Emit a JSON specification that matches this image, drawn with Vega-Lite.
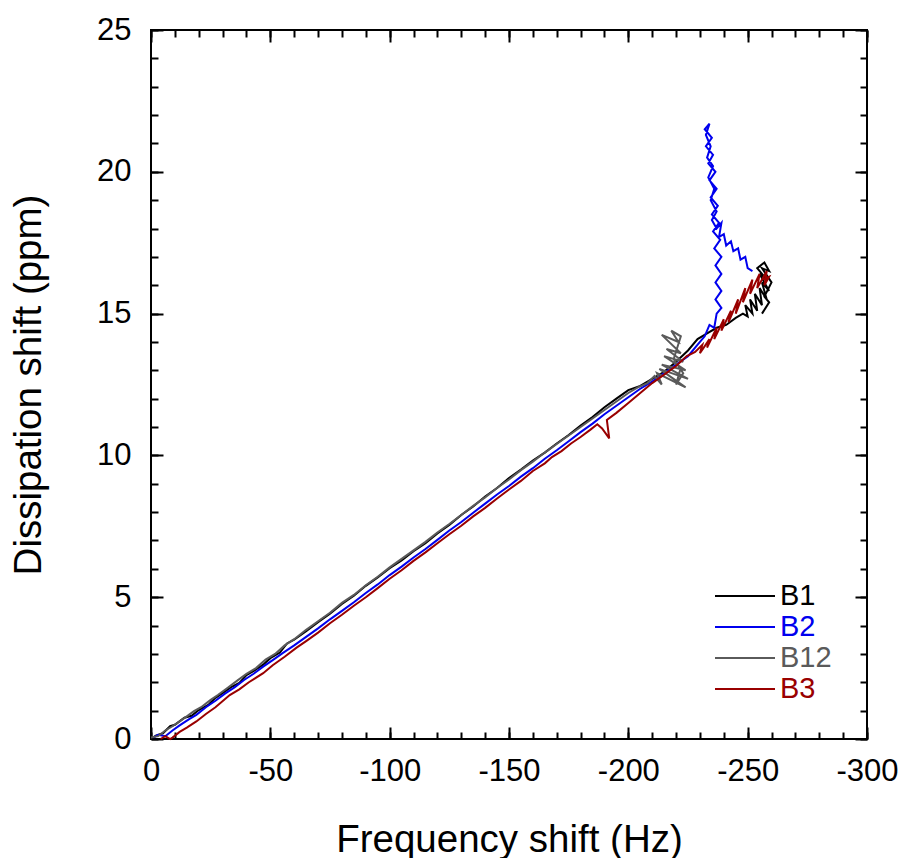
{
  "$schema": "https://vega.github.io/schema/vega-lite/v6.json",
  "autosize": {"type": "none"},
  "padding": {"left": 151, "top": 30, "right": 35, "bottom": 119},
  "width": 716,
  "height": 709,
  "background": "white",
  "config": {
    "view": {"stroke": "black", "strokeWidth": 2},
    "axis": {"labelColor": "black", "titleColor": "black", "labelFont": "Liberation Sans", "titleFont": "Liberation Sans", "grid": false},
    "legend": {"labelFont": "Liberation Sans"}
  },
  "data": {"values": [
    {"s":"B1","i":0,"f":0,"D":0},{"s":"B1","i":1,"f":-2,"D":0.12},{"s":"B1","i":2,"f":-5,"D":0.2},{"s":"B1","i":3,"f":-8,"D":0.45},{"s":"B1","i":4,"f":-10,"D":0.5},{"s":"B1","i":5,"f":-14,"D":0.75},{"s":"B1","i":6,"f":-17,"D":0.82},{"s":"B1","i":7,"f":-20,"D":1.02},{"s":"B1","i":8,"f":-24,"D":1.2},{"s":"B1","i":9,"f":-27,"D":1.45},{"s":"B1","i":10,"f":-30,"D":1.62},{"s":"B1","i":11,"f":-34,"D":1.85},{"s":"B1","i":12,"f":-37,"D":1.98},{"s":"B1","i":13,"f":-40,"D":2.25},{"s":"B1","i":14,"f":-44,"D":2.45},{"s":"B1","i":15,"f":-47,"D":2.62},{"s":"B1","i":16,"f":-50,"D":2.85},{"s":"B1","i":17,"f":-54,"D":3.05},{"s":"B1","i":18,"f":-57,"D":3.37},{"s":"B1","i":19,"f":-60,"D":3.5},{"s":"B1","i":20,"f":-65,"D":3.8},{"s":"B1","i":21,"f":-70,"D":4.12},{"s":"B1","i":22,"f":-75,"D":4.42},{"s":"B1","i":23,"f":-80,"D":4.76},{"s":"B1","i":24,"f":-85,"D":5.05},{"s":"B1","i":25,"f":-90,"D":5.4},{"s":"B1","i":26,"f":-95,"D":5.7},{"s":"B1","i":27,"f":-100,"D":6.02},{"s":"B1","i":28,"f":-105,"D":6.3},{"s":"B1","i":29,"f":-110,"D":6.62},{"s":"B1","i":30,"f":-115,"D":6.9},{"s":"B1","i":31,"f":-120,"D":7.25},{"s":"B1","i":32,"f":-125,"D":7.55},{"s":"B1","i":33,"f":-130,"D":7.9},{"s":"B1","i":34,"f":-135,"D":8.2},{"s":"B1","i":35,"f":-140,"D":8.55},{"s":"B1","i":36,"f":-145,"D":8.85},{"s":"B1","i":37,"f":-150,"D":9.2},{"s":"B1","i":38,"f":-155,"D":9.5},{"s":"B1","i":39,"f":-160,"D":9.82},{"s":"B1","i":40,"f":-165,"D":10.1},{"s":"B1","i":41,"f":-170,"D":10.42},{"s":"B1","i":42,"f":-175,"D":10.72},{"s":"B1","i":43,"f":-180,"D":11.05},{"s":"B1","i":44,"f":-185,"D":11.35},{"s":"B1","i":45,"f":-190,"D":11.7},{"s":"B1","i":46,"f":-195,"D":12.0},{"s":"B1","i":47,"f":-200,"D":12.3},{"s":"B1","i":48,"f":-205,"D":12.45},{"s":"B1","i":49,"f":-210,"D":12.7},{"s":"B1","i":50,"f":-215,"D":12.95},{"s":"B1","i":51,"f":-220,"D":13.3},{"s":"B1","i":52,"f":-225,"D":13.7},{"s":"B1","i":53,"f":-229,"D":14.1},{"s":"B1","i":54,"f":-233,"D":14.3},{"s":"B1","i":55,"f":-237,"D":14.5},{"s":"B1","i":56,"f":-241,"D":14.6},{"s":"B1","i":57,"f":-245,"D":14.85},{"s":"B1","i":58,"f":-248,"D":15.0},{"s":"B1","i":59,"f":-250,"D":14.9},{"s":"B1","i":60,"f":-249,"D":15.3},{"s":"B1","i":61,"f":-252,"D":15.0},{"s":"B1","i":62,"f":-251,"D":15.5},{"s":"B1","i":63,"f":-254,"D":15.1},{"s":"B1","i":64,"f":-253,"D":15.7},{"s":"B1","i":65,"f":-256,"D":15.3},{"s":"B1","i":66,"f":-255,"D":15.9},{"s":"B1","i":67,"f":-258,"D":15.5},{"s":"B1","i":68,"f":-256,"D":16.1},{"s":"B1","i":69,"f":-259,"D":15.8},{"s":"B1","i":70,"f":-255,"D":16.4},{"s":"B1","i":71,"f":-258,"D":16.2},{"s":"B1","i":72,"f":-254,"D":16.6},{"s":"B1","i":73,"f":-257,"D":16.8},{"s":"B1","i":74,"f":-259,"D":16.5},{"s":"B1","i":75,"f":-256,"D":16.6},{"s":"B1","i":76,"f":-260,"D":16.1},{"s":"B1","i":77,"f":-257,"D":15.6},{"s":"B1","i":78,"f":-259,"D":15.4},{"s":"B1","i":79,"f":-256,"D":15.0},

    {"s":"B2","i":0,"f":-1,"D":0.05},{"s":"B2","i":1,"f":-3,"D":0.15},{"s":"B2","i":2,"f":-6,"D":0.1},{"s":"B2","i":3,"f":-9,"D":0.3},{"s":"B2","i":4,"f":-12,"D":0.48},{"s":"B2","i":5,"f":-16,"D":0.7},{"s":"B2","i":6,"f":-19,"D":0.85},{"s":"B2","i":7,"f":-23,"D":1.12},{"s":"B2","i":8,"f":-27,"D":1.35},{"s":"B2","i":9,"f":-31,"D":1.6},{"s":"B2","i":10,"f":-35,"D":1.82},{"s":"B2","i":11,"f":-39,"D":2.08},{"s":"B2","i":12,"f":-43,"D":2.3},{"s":"B2","i":13,"f":-47,"D":2.55},{"s":"B2","i":14,"f":-51,"D":2.78},{"s":"B2","i":15,"f":-55,"D":3.02},{"s":"B2","i":16,"f":-60,"D":3.3},{"s":"B2","i":17,"f":-65,"D":3.6},{"s":"B2","i":18,"f":-70,"D":3.9},{"s":"B2","i":19,"f":-75,"D":4.22},{"s":"B2","i":20,"f":-80,"D":4.52},{"s":"B2","i":21,"f":-85,"D":4.82},{"s":"B2","i":22,"f":-90,"D":5.15},{"s":"B2","i":23,"f":-95,"D":5.45},{"s":"B2","i":24,"f":-100,"D":5.78},{"s":"B2","i":25,"f":-105,"D":6.08},{"s":"B2","i":26,"f":-110,"D":6.4},{"s":"B2","i":27,"f":-115,"D":6.7},{"s":"B2","i":28,"f":-120,"D":7.02},{"s":"B2","i":29,"f":-125,"D":7.35},{"s":"B2","i":30,"f":-130,"D":7.65},{"s":"B2","i":31,"f":-135,"D":7.98},{"s":"B2","i":32,"f":-140,"D":8.3},{"s":"B2","i":33,"f":-145,"D":8.62},{"s":"B2","i":34,"f":-150,"D":8.92},{"s":"B2","i":35,"f":-155,"D":9.25},{"s":"B2","i":36,"f":-160,"D":9.55},{"s":"B2","i":37,"f":-165,"D":9.88},{"s":"B2","i":38,"f":-170,"D":10.18},{"s":"B2","i":39,"f":-175,"D":10.5},{"s":"B2","i":40,"f":-180,"D":10.82},{"s":"B2","i":41,"f":-185,"D":11.12},{"s":"B2","i":42,"f":-190,"D":11.45},{"s":"B2","i":43,"f":-195,"D":11.75},{"s":"B2","i":44,"f":-200,"D":12.05},{"s":"B2","i":45,"f":-205,"D":12.35},{"s":"B2","i":46,"f":-210,"D":12.6},{"s":"B2","i":47,"f":-215,"D":12.9},{"s":"B2","i":48,"f":-220,"D":13.2},{"s":"B2","i":49,"f":-225,"D":13.5},{"s":"B2","i":50,"f":-230,"D":14.0},{"s":"B2","i":51,"f":-232,"D":14.2},{"s":"B2","i":52,"f":-234,"D":14.6},{"s":"B2","i":53,"f":-236,"D":14.5},{"s":"B2","i":54,"f":-237,"D":15.0},{"s":"B2","i":55,"f":-239,"D":15.2},{"s":"B2","i":56,"f":-236.5,"D":15.5},{"s":"B2","i":57,"f":-239,"D":15.8},{"s":"B2","i":58,"f":-236.5,"D":16.1},{"s":"B2","i":59,"f":-239,"D":16.4},{"s":"B2","i":60,"f":-236.5,"D":16.7},{"s":"B2","i":61,"f":-239,"D":17.0},{"s":"B2","i":62,"f":-236,"D":17.3},{"s":"B2","i":63,"f":-238.5,"D":17.6},{"s":"B2","i":64,"f":-235.5,"D":17.9},{"s":"B2","i":65,"f":-238,"D":18.2},{"s":"B2","i":66,"f":-235,"D":18.5},{"s":"B2","i":67,"f":-237.5,"D":18.8},{"s":"B2","i":68,"f":-234.5,"D":19.1},{"s":"B2","i":69,"f":-237,"D":19.4},{"s":"B2","i":70,"f":-234,"D":19.7},{"s":"B2","i":71,"f":-236.5,"D":20.0},{"s":"B2","i":72,"f":-233.5,"D":20.3},{"s":"B2","i":73,"f":-235.5,"D":20.6},{"s":"B2","i":74,"f":-232.5,"D":20.9},{"s":"B2","i":75,"f":-235,"D":21.2},{"s":"B2","i":76,"f":-232,"D":21.5},{"s":"B2","i":77,"f":-234,"D":21.7},{"s":"B2","i":78,"f":-232.5,"D":21.3},{"s":"B2","i":79,"f":-234.5,"D":20.9},{"s":"B2","i":80,"f":-233,"D":20.5},{"s":"B2","i":81,"f":-235.5,"D":20.2},{"s":"B2","i":82,"f":-233.5,"D":19.8},{"s":"B2","i":83,"f":-236,"D":19.4},{"s":"B2","i":84,"f":-234.5,"D":19.0},{"s":"B2","i":85,"f":-237,"D":18.6},{"s":"B2","i":86,"f":-235,"D":18.3},{"s":"B2","i":87,"f":-237,"D":18.0},{"s":"B2","i":88,"f":-239,"D":18.2},{"s":"B2","i":89,"f":-238,"D":17.7},{"s":"B2","i":90,"f":-240,"D":17.8},{"s":"B2","i":91,"f":-241,"D":17.4},{"s":"B2","i":92,"f":-243,"D":17.55},{"s":"B2","i":93,"f":-244,"D":17.2},{"s":"B2","i":94,"f":-246,"D":17.3},{"s":"B2","i":95,"f":-247,"D":16.9},{"s":"B2","i":96,"f":-249,"D":17.0},{"s":"B2","i":97,"f":-250,"D":16.6},{"s":"B2","i":98,"f":-252,"D":16.5},

    {"s":"B12","i":0,"f":0,"D":0.05},{"s":"B12","i":1,"f":-3,"D":0.1},{"s":"B12","i":2,"f":-6,"D":0.3},{"s":"B12","i":3,"f":-9,"D":0.45},{"s":"B12","i":4,"f":-12,"D":0.62},{"s":"B12","i":5,"f":-15,"D":0.8},{"s":"B12","i":6,"f":-18,"D":0.98},{"s":"B12","i":7,"f":-21,"D":1.12},{"s":"B12","i":8,"f":-25,"D":1.38},{"s":"B12","i":9,"f":-28,"D":1.55},{"s":"B12","i":10,"f":-32,"D":1.8},{"s":"B12","i":11,"f":-36,"D":2.05},{"s":"B12","i":12,"f":-40,"D":2.3},{"s":"B12","i":13,"f":-44,"D":2.5},{"s":"B12","i":14,"f":-48,"D":2.8},{"s":"B12","i":15,"f":-52,"D":3.0},{"s":"B12","i":16,"f":-56,"D":3.3},{"s":"B12","i":17,"f":-60,"D":3.52},{"s":"B12","i":18,"f":-65,"D":3.85},{"s":"B12","i":19,"f":-70,"D":4.15},{"s":"B12","i":20,"f":-75,"D":4.45},{"s":"B12","i":21,"f":-80,"D":4.8},{"s":"B12","i":22,"f":-85,"D":5.08},{"s":"B12","i":23,"f":-90,"D":5.42},{"s":"B12","i":24,"f":-95,"D":5.72},{"s":"B12","i":25,"f":-100,"D":6.05},{"s":"B12","i":26,"f":-105,"D":6.35},{"s":"B12","i":27,"f":-110,"D":6.65},{"s":"B12","i":28,"f":-115,"D":6.95},{"s":"B12","i":29,"f":-120,"D":7.28},{"s":"B12","i":30,"f":-125,"D":7.58},{"s":"B12","i":31,"f":-130,"D":7.9},{"s":"B12","i":32,"f":-135,"D":8.22},{"s":"B12","i":33,"f":-140,"D":8.52},{"s":"B12","i":34,"f":-145,"D":8.85},{"s":"B12","i":35,"f":-150,"D":9.15},{"s":"B12","i":36,"f":-155,"D":9.48},{"s":"B12","i":37,"f":-160,"D":9.78},{"s":"B12","i":38,"f":-165,"D":10.1},{"s":"B12","i":39,"f":-170,"D":10.4},{"s":"B12","i":40,"f":-175,"D":10.7},{"s":"B12","i":41,"f":-180,"D":11.0},{"s":"B12","i":42,"f":-185,"D":11.3},{"s":"B12","i":43,"f":-190,"D":11.6},{"s":"B12","i":44,"f":-195,"D":11.9},{"s":"B12","i":45,"f":-200,"D":12.2},{"s":"B12","i":46,"f":-204,"D":12.4},{"s":"B12","i":47,"f":-208,"D":12.55},{"s":"B12","i":48,"f":-211,"D":12.8},{"s":"B12","i":49,"f":-214,"D":12.5},{"s":"B12","i":50,"f":-212,"D":12.9},{"s":"B12","i":51,"f":-224,"D":12.4},{"s":"B12","i":52,"f":-213,"D":13.05},{"s":"B12","i":53,"f":-225,"D":12.7},{"s":"B12","i":54,"f":-214,"D":13.2},{"s":"B12","i":55,"f":-224,"D":13.0},{"s":"B12","i":56,"f":-215,"D":13.5},{"s":"B12","i":57,"f":-223,"D":13.3},{"s":"B12","i":58,"f":-216,"D":13.75},{"s":"B12","i":59,"f":-222,"D":13.6},{"s":"B12","i":60,"f":-214,"D":14.25},{"s":"B12","i":61,"f":-221,"D":14.0},{"s":"B12","i":62,"f":-218,"D":14.4},{"s":"B12","i":63,"f":-222,"D":14.2},{"s":"B12","i":64,"f":-219,"D":13.4},{"s":"B12","i":65,"f":-223,"D":12.9},{"s":"B12","i":66,"f":-220,"D":12.5},{"s":"B12","i":67,"f":-222,"D":13.1},

    {"s":"B3","i":0,"f":-4,"D":0.0},{"s":"B3","i":1,"f":-6,"D":0.1},{"s":"B3","i":2,"f":-8,"D":0.0},{"s":"B3","i":3,"f":-9,"D":0.05},{"s":"B3","i":4,"f":-12,"D":0.25},{"s":"B3","i":5,"f":-15,"D":0.4},{"s":"B3","i":6,"f":-19,"D":0.62},{"s":"B3","i":7,"f":-23,"D":0.88},{"s":"B3","i":8,"f":-27,"D":1.12},{"s":"B3","i":9,"f":-33,"D":1.55},{"s":"B3","i":10,"f":-37,"D":1.75},{"s":"B3","i":11,"f":-41,"D":2.0},{"s":"B3","i":12,"f":-47,"D":2.32},{"s":"B3","i":13,"f":-51,"D":2.6},{"s":"B3","i":14,"f":-56,"D":2.9},{"s":"B3","i":15,"f":-61,"D":3.22},{"s":"B3","i":16,"f":-65,"D":3.45},{"s":"B3","i":17,"f":-70,"D":3.75},{"s":"B3","i":18,"f":-75,"D":4.08},{"s":"B3","i":19,"f":-80,"D":4.38},{"s":"B3","i":20,"f":-85,"D":4.7},{"s":"B3","i":21,"f":-90,"D":5.0},{"s":"B3","i":22,"f":-95,"D":5.32},{"s":"B3","i":23,"f":-100,"D":5.65},{"s":"B3","i":24,"f":-105,"D":5.95},{"s":"B3","i":25,"f":-110,"D":6.28},{"s":"B3","i":26,"f":-115,"D":6.58},{"s":"B3","i":27,"f":-120,"D":6.9},{"s":"B3","i":28,"f":-125,"D":7.22},{"s":"B3","i":29,"f":-130,"D":7.52},{"s":"B3","i":30,"f":-135,"D":7.85},{"s":"B3","i":31,"f":-140,"D":8.15},{"s":"B3","i":32,"f":-145,"D":8.48},{"s":"B3","i":33,"f":-150,"D":8.8},{"s":"B3","i":34,"f":-155,"D":9.1},{"s":"B3","i":35,"f":-160,"D":9.45},{"s":"B3","i":36,"f":-165,"D":9.72},{"s":"B3","i":37,"f":-168,"D":9.94},{"s":"B3","i":38,"f":-172,"D":10.15},{"s":"B3","i":39,"f":-176,"D":10.42},{"s":"B3","i":40,"f":-180,"D":10.65},{"s":"B3","i":41,"f":-184,"D":10.9},{"s":"B3","i":42,"f":-187,"D":11.1},{"s":"B3","i":43,"f":-189,"D":10.95},{"s":"B3","i":44,"f":-192,"D":10.6},{"s":"B3","i":45,"f":-191,"D":11.25},{"s":"B3","i":46,"f":-195,"D":11.5},{"s":"B3","i":47,"f":-200,"D":11.85},{"s":"B3","i":48,"f":-205,"D":12.2},{"s":"B3","i":49,"f":-210,"D":12.55},{"s":"B3","i":50,"f":-215,"D":12.85},{"s":"B3","i":51,"f":-220,"D":13.15},{"s":"B3","i":52,"f":-224.5,"D":13.5},{"s":"B3","i":53,"f":-228,"D":13.65},{"s":"B3","i":54,"f":-231,"D":13.9},{"s":"B3","i":55,"f":-230,"D":13.6},{"s":"B3","i":56,"f":-234,"D":14.1},{"s":"B3","i":57,"f":-233,"D":13.8},{"s":"B3","i":58,"f":-237,"D":14.5},{"s":"B3","i":59,"f":-236,"D":14.1},{"s":"B3","i":60,"f":-240,"D":14.8},{"s":"B3","i":61,"f":-239,"D":14.4},{"s":"B3","i":62,"f":-243,"D":15.1},{"s":"B3","i":63,"f":-242,"D":14.7},{"s":"B3","i":64,"f":-246,"D":15.5},{"s":"B3","i":65,"f":-245,"D":15.0},{"s":"B3","i":66,"f":-249,"D":15.9},{"s":"B3","i":67,"f":-248,"D":15.4},{"s":"B3","i":68,"f":-252,"D":16.2},{"s":"B3","i":69,"f":-251,"D":15.7},{"s":"B3","i":70,"f":-255,"D":16.4},{"s":"B3","i":71,"f":-254,"D":15.9},{"s":"B3","i":72,"f":-258,"D":16.5},{"s":"B3","i":73,"f":-257,"D":16.0},{"s":"B3","i":74,"f":-259,"D":16.3},{"s":"B3","i":75,"f":-256,"D":16.2}
  ]},
  "resolve": {"axis": {"x": "independent", "y": "independent"}},
  "layer": [
    {
      "mark": {"type": "line", "strokeWidth": 2, "strokeJoin": "miter"},
      "encoding": {
        "x": {"field": "f", "type": "quantitative", "scale": {"domain": [0, -300], "nice": false, "zero": false},
              "axis": {"orient": "bottom", "values": [0, -50, -100, -150, -200, -250, -300], "labelExpr": "replace(datum.label, '−', '-')", "ticks": false, "domain": false, "labelFontSize": 31, "labelPadding": 17, "labelFlush": false, "labelOverlap": false, "title": "Frequency shift (Hz)", "titleFontSize": 38.5, "titleFontWeight": "normal", "titlePadding": 35}},
        "y": {"field": "D", "type": "quantitative", "scale": {"domain": [0, 25], "nice": false, "zero": false},
              "axis": {"orient": "left", "values": [0, 5, 10, 15, 20, 25], "ticks": false, "domain": false, "labelFontSize": 31, "labelPadding": 20, "labelFlush": false, "labelOverlap": false, "title": "Dissipation shift (ppm)", "titleFontSize": 38.5, "titleFontWeight": "normal", "titlePadding": 48}},
        "color": {"field": "s", "type": "nominal",
                  "scale": {"domain": ["B1", "B2", "B12", "B3"], "range": ["#000000", "#0000ee", "#5a5a5a", "#990000"]},
                  "legend": {"orient": "bottom-right", "offset": 35, "padding": 0, "title": null, "symbolType": "M-2,0H2", "symbolSize": 900, "symbolStrokeWidth": 2, "labelFontSize": 29, "labelOffset": 19, "rowPadding": -1,
                             "encode": {"labels": {"update": {"fill": {"scale": "color", "field": "value"}}}}}},
        "order": {"field": "i", "type": "quantitative"}
      }
    },
    {
      "mark": {"type": "point", "opacity": 0},
      "encoding": {
        "x": {"field": "f", "type": "quantitative", "scale": {"domain": [0, -300], "nice": false, "zero": false},
              "axis": {"orient": "bottom", "values": [0, -50, -100, -150, -200, -250, -300], "labels": false, "domain": false, "title": null, "tickSize": -12, "tickWidth": 2, "tickColor": "black"}},
        "y": {"field": "D", "type": "quantitative", "scale": {"domain": [0, 25], "nice": false, "zero": false},
              "axis": {"orient": "left", "values": [0, 5, 10, 15, 20, 25], "labels": false, "domain": false, "title": null, "tickSize": -12, "tickWidth": 2, "tickColor": "black"}}
      }
    },
    {
      "mark": {"type": "point", "opacity": 0},
      "encoding": {
        "x": {"field": "f", "type": "quantitative", "scale": {"domain": [0, -300], "nice": false, "zero": false},
              "axis": {"orient": "bottom", "values": [0,-10,-20,-30,-40,-50,-60,-70,-80,-90,-100,-110,-120,-130,-140,-150,-160,-170,-180,-190,-200,-210,-220,-230,-240,-250,-260,-270,-280,-290,-300], "labels": false, "domain": false, "title": null, "tickSize": -7, "tickWidth": 2, "tickColor": "black"}},
        "y": {"field": "D", "type": "quantitative", "scale": {"domain": [0, 25], "nice": false, "zero": false},
              "axis": {"orient": "left", "values": [0,1,2,3,4,5,6,7,8,9,10,11,12,13,14,15,16,17,18,19,20,21,22,23,24,25], "labels": false, "domain": false, "title": null, "tickSize": -7, "tickWidth": 2, "tickColor": "black"}}
      }
    },
    {
      "mark": {"type": "point", "opacity": 0},
      "encoding": {
        "x": {"field": "f", "type": "quantitative", "scale": {"domain": [0, -300], "nice": false, "zero": false},
              "axis": {"orient": "top", "values": [0, -50, -100, -150, -200, -250, -300], "labels": false, "domain": false, "title": null, "tickSize": -12, "tickWidth": 2, "tickColor": "black"}},
        "y": {"field": "D", "type": "quantitative", "scale": {"domain": [0, 25], "nice": false, "zero": false},
              "axis": {"orient": "right", "values": [0, 5, 10, 15, 20, 25], "labels": false, "domain": false, "title": null, "tickSize": -12, "tickWidth": 2, "tickColor": "black"}}
      }
    },
    {
      "mark": {"type": "point", "opacity": 0},
      "encoding": {
        "x": {"field": "f", "type": "quantitative", "scale": {"domain": [0, -300], "nice": false, "zero": false},
              "axis": {"orient": "top", "values": [0,-10,-20,-30,-40,-50,-60,-70,-80,-90,-100,-110,-120,-130,-140,-150,-160,-170,-180,-190,-200,-210,-220,-230,-240,-250,-260,-270,-280,-290,-300], "labels": false, "domain": false, "title": null, "tickSize": -7, "tickWidth": 2, "tickColor": "black"}},
        "y": {"field": "D", "type": "quantitative", "scale": {"domain": [0, 25], "nice": false, "zero": false},
              "axis": {"orient": "right", "values": [0,1,2,3,4,5,6,7,8,9,10,11,12,13,14,15,16,17,18,19,20,21,22,23,24,25], "labels": false, "domain": false, "title": null, "tickSize": -7, "tickWidth": 2, "tickColor": "black"}}
      }
    }
  ]
}
